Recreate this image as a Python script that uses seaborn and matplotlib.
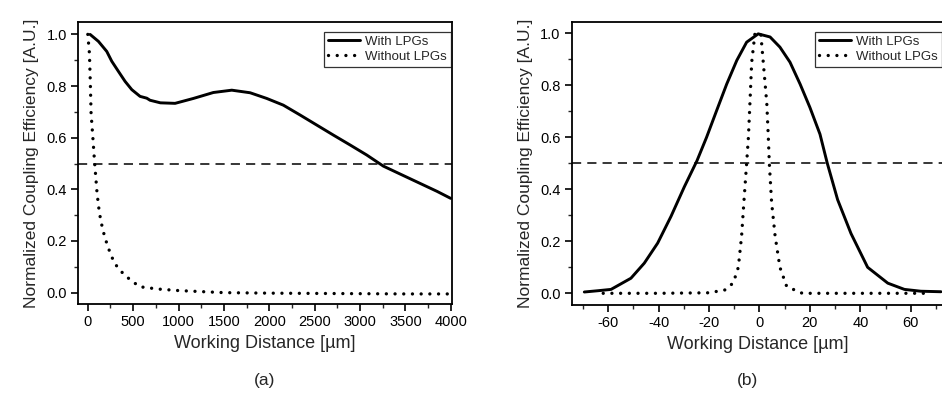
import numpy as np
import matplotlib
matplotlib.use("Agg")
import matplotlib.pyplot as plt
from matplotlib.ticker import MultipleLocator
import seaborn as sns

# tema di base, poi il font (set_theme riscrive font.family)
sns.set_theme(style="ticks")
plt.rcParams['font.family'] = ['Liberation Sans', 'DejaVu Sans']
plt.rcParams['axes.unicode_minus'] = False

# dati pannello (a): distanza in um
a_with_x = [25, 117, 209, 264, 337, 411, 485, 576, 650, 686, 800, 962, 1164, 1384, 1587,
            1789, 1972, 2155, 2339, 2523, 2707, 2890, 3074, 3257, 3450, 3650, 3850, 4000]
a_with_y = [1.0, 0.973, 0.934, 0.896, 0.857, 0.818, 0.786, 0.76, 0.753, 0.745, 0.735, 0.733, 0.752,
            0.775, 0.784, 0.774, 0.752, 0.726, 0.688, 0.649, 0.610, 0.572, 0.533, 0.490, 0.458,
            0.425, 0.392, 0.365]
a_without_x = [0, 18, 29, 36, 55, 73, 102, 128, 165, 220, 293, 403, 569, 771, 1000, 1500,
               2000, 2500, 3000, 3500, 4000]
a_without_y = [1.0, 0.926, 0.797, 0.695, 0.604, 0.513, 0.385, 0.308, 0.243, 0.178, 0.114, 0.068,
               0.023, 0.014, 0.008, 0.0, -0.002, -0.003, -0.004, -0.005, -0.005]

# dati pannello (b)
b_with_x = [-69.5, -64, -58.9, -51, -45.7, -40.4, -35.1, -29.8, -24.8, -21, -17, -13, -9, -5.1,
            -0.5, 4.2, 8.1, 12.1, 16.1, 20, 24, 26.9, 31, 36.3, 42.9, 50.9, 57.5, 64, 72]
b_with_y = [0.005, 0.01, 0.015, 0.058, 0.116, 0.193, 0.296, 0.41, 0.51, 0.60, 0.703, 0.805, 0.896,
            0.966, 0.998, 0.986, 0.947, 0.889, 0.805, 0.715, 0.612, 0.50, 0.36, 0.23, 0.10, 0.039,
            0.015, 0.008, 0.006]
b_without_x = [-62, -40, -20, -13.7, -10.4, -8.4, -7.1, -6.2, -5.1, -4.4, -3.8, -3.1, -1.8, 0.5,
               1.5, 2.9, 3.5, 3.9, 4.8, 6.2, 8.1, 10.8, 17, 30, 50, 65]
b_without_y = [0.0, 0.0, 0.002, 0.013, 0.04, 0.10, 0.22, 0.35, 0.50, 0.60, 0.73, 0.888, 1.0, 1.0,
               0.888, 0.73, 0.60, 0.50, 0.35, 0.22, 0.10, 0.026, 0.0, 0.0, 0.0, 0.0]

a_xticks = [0, 500, 1000, 1500, 2000, 2500, 3000, 3500, 4000]
b_xticks = [-60, -40, -20, 0, 20, 40, 60]
y_ticks = [0.0, 0.2, 0.4, 0.6, 0.8, 1.0]

fig = plt.figure(figsize=(9.42, 3.98), dpi=100)
ax_a = fig.add_axes([78 / 942, 1 - 304 / 398, 374 / 942, 282 / 398])
ax_b = fig.add_axes([571.7 / 942, 1 - 305 / 398, 371.3 / 942, 283 / 398])

dot_style = (0, (0.01, 2.6))


def disegna(ax, xw, yw, xo, yo, xticks, xlim, ylim, minor):
    sns.lineplot(x=xw, y=yw, ax=ax, color='black', lw=2.1, label='With LPGs', sort=False)
    sns.lineplot(x=xo, y=yo, ax=ax, color='black', lw=2.4, linestyle=dot_style,
                 label='Without LPGs', sort=False)
    ax.lines[0].set_solid_joinstyle('round')
    ax.lines[1].set_dash_capstyle('round')
    ax.axhline(0.5, color='black', lw=1.1, linestyle=(0, (6, 4)))
    ax.set_xlim(xlim)
    ax.set_ylim(ylim)
    ax.set_xticks(xticks)
    ax.set_yticks(y_ticks)
    ax.set_yticklabels(['%.1f' % v for v in y_ticks])
    ax.xaxis.set_minor_locator(MultipleLocator(minor))
    ax.yaxis.set_minor_locator(MultipleLocator(0.1))
    ax.tick_params(which='major', direction='out', length=5, width=1.2, labelsize=10.5, pad=3,
                   colors='black')
    ax.tick_params(which='minor', direction='out', length=3, width=1.0)
    for s in ax.spines.values():
        s.set_linewidth(1.3)
        s.set_color('black')
    ax.set_xlabel('Working Distance [µm]', fontsize=13, labelpad=4)
    ax.set_ylabel('Normalized Coupling Efficiency [A.U.]', fontsize=12.5, labelpad=5)
    leg = ax.legend(loc='upper right', bbox_to_anchor=(0.997, 0.965), fontsize=9.5,
                    frameon=True, fancybox=False, edgecolor='black', handlelength=2.4,
                    labelspacing=0.2, borderpad=0.3, handletextpad=0.4, borderaxespad=0)
    leg.get_frame().set_linewidth(0.9)
    leg.get_lines()[1].set_dash_capstyle('round')


disegna(ax_a, a_with_x, a_with_y, a_without_x, a_without_y, a_xticks,
        (-108, 4014), (-0.044, 1.048), 250)
disegna(ax_b, b_with_x, b_with_y, b_without_x, b_without_y, b_xticks,
        (-74.5, 72.8), (-0.045, 1.0436), 10)

fig.text(265 / 942, 1 - 380 / 398, '(a)', fontsize=12.5, ha='center', va='center')
fig.text(748 / 942, 1 - 380 / 398, '(b)', fontsize=12.5, ha='center', va='center')

fig.savefig('out.png', dpi=100)
